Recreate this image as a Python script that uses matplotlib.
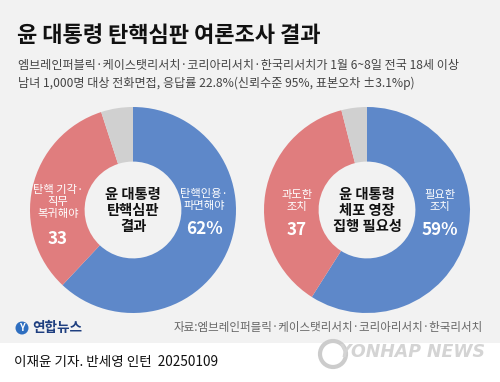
import matplotlib as mpl
mpl.use('Agg')

import matplotlib.pyplot as plt
import matplotlib.patches as patches

plt.rcParams['font.family'] = ['Noto Sans CJK KR', 'DejaVu Sans']

BG_COLOR = '#f2f2f2'
BLUE = '#5e88c9'
RED = '#e07d7e'
GRAY = '#d0d0d0'

# data
impeach_labels = ['탄핵인용·\n파면해야', '탄핵 기각·\n직무\n복귀해야', '모름']
impeach_values = [62, 33, 5]
arrest_labels = ['필요한\n조치', '과도한\n조치', '모름']
arrest_values = [59, 37, 4]

W, H = 500, 382


def py(y):
    # pixel y from top -> data y
    return H - y


f = plt.figure(figsize=[5, 3.82], dpi=100)
ax = plt.Axes(f, [0., 0., 1., 1.])
ax.set_axis_off()
f.add_axes(ax)
ax.set_xlim([0, W])
ax.set_ylim([0, H])

# Background
ax.add_patch(patches.Rectangle((0, py(343)), W, 343, facecolor=BG_COLOR, edgecolor='none', zorder=0))

# Title and subtitle
ax.text(17, py(35), '윤 대통령 탄핵심판 여론조사 결과', fontsize=15.9, fontweight='bold',
        color='#111111', va='center', ha='left')
ax.text(18, py(65), '엠브레인퍼블릭·케이스탯리서치·코리아리서치·한국리서치가 1월 6~8일 전국 18세 이상',
        fontsize=8.7, color='#444444', va='center', ha='left')
ax.text(18, py(83), '남녀 1,000명 대상 전화면접, 응답률 22.8%(신뢰수준 95%, 표본오차 ±3.1%p)',
        fontsize=8.7, color='#444444', va='center', ha='left')

colors = [BLUE, RED, GRAY]
R = 103
for cx, vals in [(133, impeach_values), (367, arrest_values)]:
    ax.pie(vals, colors=colors, startangle=90, counterclock=False,
           center=(cx, py(210)), radius=R, frame=True,
           wedgeprops=dict(width=R * 0.53, edgecolor='none'))

ax.set_xlim([0, W])
ax.set_ylim([0, H])
ax.set_axis_off()

# Center texts
ax.text(133, py(211), '윤 대통령\n탄핵심판\n결과', fontsize=10.3, fontweight='bold',
        ha='center', va='center', linespacing=1.2, color='#111111')
ax.text(367, py(211), '윤 대통령\n체포 영장\n집행 필요성', fontsize=10.3, fontweight='bold',
        ha='center', va='center', linespacing=1.2, color='#111111')

# Segment labels
lab = dict(fontsize=8.1, color='white', ha='center', va='center', linespacing=1.3)
num = dict(fontsize=12.3, fontweight='bold', color='white', ha='center', va='center')
ax.text(204, py(200), impeach_labels[0], **lab)
ax.text(204, py(229), f'{impeach_values[0]}%', **num)
ax.text(58, py(202), impeach_labels[1], **lab)
ax.text(58, py(239), f'{impeach_values[1]}', **num)
ax.text(440, py(201), arrest_labels[0], **lab)
ax.text(440, py(230), f'{arrest_values[0]}%', **num)
ax.text(297, py(201), arrest_labels[1], **lab)
ax.text(297, py(230), f'{arrest_values[1]}', **num)

# Footer
ax.add_patch(patches.Circle((22, py(328)), 6.5, facecolor='#2f6fc0', edgecolor='none'))
ax.text(22, py(328), 'Y', fontsize=7, fontweight='bold', fontstyle='italic', color='white',
        ha='center', va='center')
ax.text(32, py(328), '연합뉴스', fontsize=9.8, fontweight='bold', color='#1f3f80',
        ha='left', va='center')
ax.text(483, py(328), '자료:엠브레인퍼블릭·케이스탯리서치·코리아리서치·한국리서치',
        fontsize=8.3, color='#666666', ha='right', va='center')

ax.text(14, py(362), '이재윤 기자. 반세영 인턴  20250109', fontsize=9.8, color='#111111',
        ha='left', va='center')

# Watermark
ax.add_patch(patches.Circle((333, py(354)), 13, facecolor='none', edgecolor='#cccccc', lw=3))
ax.text(485, py(352), 'YONHAP NEWS', fontsize=12.5, fontweight='bold', fontstyle='italic',
        family='DejaVu Sans', color='#d4d4d4', ha='right', va='center')

plt.savefig('out.png', dpi=100, facecolor='white')
